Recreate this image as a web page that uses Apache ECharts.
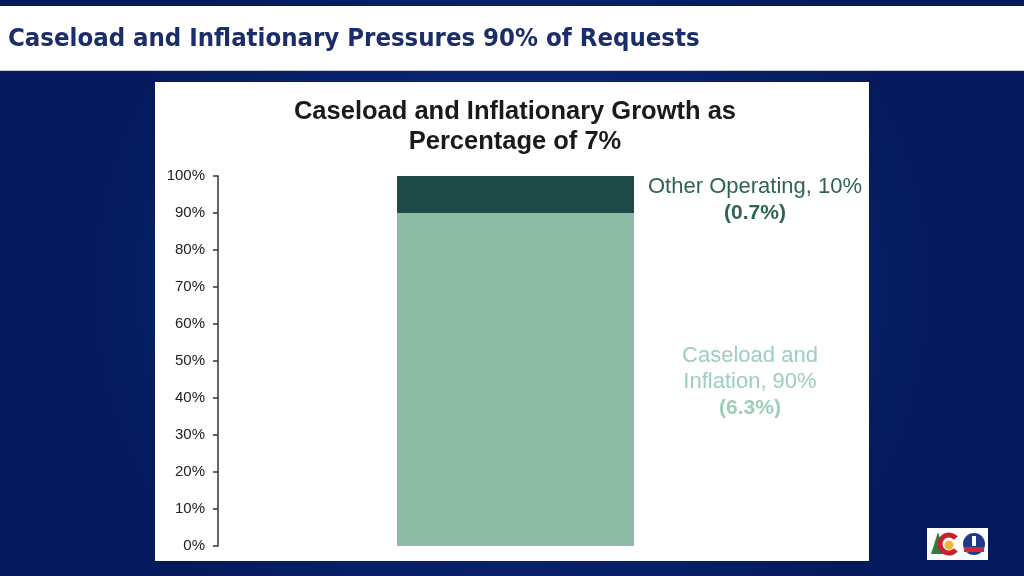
<!DOCTYPE html>
<html>
<head>
<meta charset="utf-8">
<script src="https://cdn.jsdelivr.net/npm/echarts@6/dist/echarts.min.js"></script>
<style>
  html, body { margin: 0; padding: 0; }
  #chart { width: 1024px; height: 576px; }
</style>
</head>
<body>
<div id="chart"></div>
<script>
const categories = ['Requests'];
const caseloadValues = [90];
const otherValues = [10];
const caseloadLabel = ['Caseload and', 'Inflation, 90%', '(6.3%)'];
const otherLabel = ['Other Operating, 10%', '(0.7%)'];

const chart = echarts.init(document.getElementById('chart'));

const option = {
  backgroundColor: {
    type: 'radial', x: 0.5, y: 0.5, r: 0.75,
    colorStops: [{ offset: 0, color: '#0d2d84' }, { offset: 1, color: '#041a5c' }]
  },
  textStyle: { fontFamily: 'Liberation Sans' },
  title: {
    text: 'Caseload and Inflationary Growth as\nPercentage of 7%',
    left: 510, top: 92, textAlign: 'center',
    textStyle: { fontSize: 25.5, fontWeight: 'bold', color: '#1a1a1a', lineHeight: 30, fontFamily: 'Liberation Sans' }
  },
  graphic: [
    { type: 'rect', z: -10, shape: { x: 0, y: 6, width: 1024, height: 65 }, style: { fill: '#ffffff' } },
    { type: 'rect', z: -10, shape: { x: 0, y: 70, width: 1024, height: 1 }, style: { fill: '#c8cbd6' } },
    { type: 'text', z: -9, x: 8, y: 39,
      style: { text: 'Caseload and Inflationary Pressures 90% of Requests', fill: '#1b2d6b',
        font: 'bold 25.5px "DejaVu Sans Condensed"', textVerticalAlign: 'middle' } },
    { type: 'rect', z: -10, shape: { x: 155, y: 82, width: 714, height: 479 }, style: { fill: '#ffffff' } },
    // logo
    { type: 'group', x: 927, y: 528, children: [
      { type: 'rect', shape: { x: 0, y: 0, width: 61, height: 32 }, style: { fill: '#ffffff' } },
      { type: 'polygon', shape: { points: [[11, 4], [4, 26], [18, 26]] }, style: { fill: '#2f7d3a' } },
      { type: 'arc', shape: { cx: 22, cy: 16, r: 9, startAngle: 0.7, endAngle: -0.7, clockwise: true }, style: { stroke: '#c8202f', lineWidth: 5, fill: null } },
      { type: 'circle', shape: { cx: 22, cy: 17, r: 4.5 }, style: { fill: '#f2b632' } },
      { type: 'circle', shape: { cx: 47, cy: 16, r: 11 }, style: { fill: '#1f3a86' } },
      { type: 'rect', shape: { x: 37, y: 19, width: 20, height: 5 }, style: { fill: '#d3263a' } },
      { type: 'rect', shape: { x: 45, y: 8, width: 4, height: 10 }, style: { fill: '#ffffff' } }
    ] }
  ],
  grid: { left: 218, right: 211, top: 176, bottom: 30 },
  xAxis: {
    type: 'category', data: categories,
    axisLine: { show: false }, axisTick: { show: false }, axisLabel: { show: false }
  },
  yAxis: {
    type: 'value', min: 0, max: 100, interval: 10,
    axisLine: { show: true, lineStyle: { color: '#333', width: 1.5 } },
    axisTick: { show: true, length: 5, lineStyle: { color: '#333', width: 1.5 } },
    splitLine: { show: false },
    axisLabel: { formatter: '{value}%', fontSize: 15, color: '#222', margin: 13 }
  },
  series: [
    {
      name: 'Caseload and Inflation', type: 'bar', stack: 'total', barWidth: 237,
      data: caseloadValues,
      itemStyle: { color: '#8ebba3' },
      label: {
        show: true, position: [353, 169], align: 'center', verticalAlign: 'middle',
        formatter: () => '{a|' + caseloadLabel[0] + '}\n{a|' + caseloadLabel[1] + '}\n{b|' + caseloadLabel[2] + '}',
        rich: {
          a: { fontSize: 22, color: '#9ccfb8', lineHeight: 26, fontFamily: 'Liberation Sans' },
          b: { fontSize: 21, color: '#9ccfb8', fontWeight: 'bold', lineHeight: 26, fontFamily: 'Liberation Sans' }
        }
      }
    },
    {
      name: 'Other Operating', type: 'bar', stack: 'total', barWidth: 237,
      data: otherValues,
      itemStyle: { color: '#1f4a47' },
      label: {
        show: true, position: [358, 24], align: 'center', verticalAlign: 'middle',
        formatter: () => '{a|' + otherLabel[0] + '}\n{b|' + otherLabel[1] + '}',
        rich: {
          a: { fontSize: 22, color: '#2f6356', lineHeight: 27, fontFamily: 'Liberation Sans' },
          b: { fontSize: 21, color: '#2f6356', fontWeight: 'bold', lineHeight: 27, fontFamily: 'Liberation Sans' }
        }
      }
    }
  ]
};

chart.setOption(option);
</script>
</body>
</html>
